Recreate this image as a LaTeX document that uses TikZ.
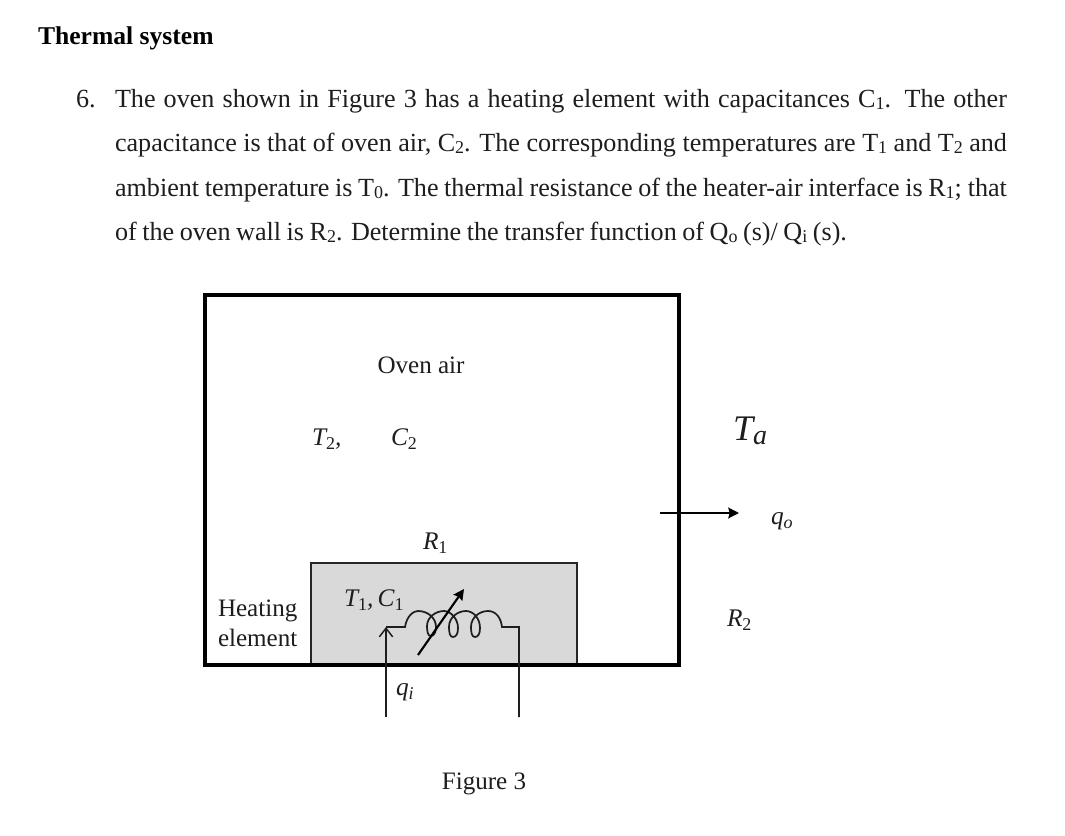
\documentclass[tikz,border=0pt]{standalone}
\usepackage{fontspec}
\usepackage{graphicx}
\setmainfont{Liberation Serif}
\usetikzlibrary{arrows.meta}
\definecolor{inkc}{HTML}{1E1E1E}
\definecolor{heatc}{HTML}{D9D9D9}
\newcommand{\sbs}[1]{{\fontsize{13.5}{13.5}\selectfont\raisebox{-2.2pt}{#1}}}
\newcommand{\msb}[1]{{\fontsize{13.5}{13.5}\selectfont\raisebox{-3pt}{\upshape#1}}}
\newcommand{\msi}[1]{{\fontsize{13.5}{13.5}\selectfont\raisebox{-3pt}{\textit{#1}}}}
\tikzset{
  x=0.75pt,y=-0.75pt,
  bodyline/.style={anchor=base west,inner sep=0pt,outer sep=0pt,text=inkc,font=\fontsize{19.6}{22}\selectfont},
  titleline/.style={anchor=base west,inner sep=0pt,outer sep=0pt,text=black,font=\fontsize{19.2}{22}\selectfont\bfseries},
  figlabel/.style={anchor=base,inner sep=0pt,outer sep=0pt,text=inkc,font=\fontsize{18.8}{22}\selectfont},
  mathlabel/.style={anchor=base west,inner sep=0pt,outer sep=0pt,text=inkc,font=\fontsize{19}{22}\selectfont\itshape},
  ovenwall/.style={draw=black,line width=2.9pt},
  heaterbox/.style={draw=black!85,line width=1.9pt,fill=heatc},
  wire/.style={draw=inkc,line width=1.3pt},
  openarrow/.style={wire,-{Straight Barb[length=6.5pt,width=10pt,line width=1.1pt]}},
  flowarrow/.style={draw=black,line width=1.6pt,-{Stealth[length=8pt,width=8pt,inset=1pt]}}
}
\begin{document}
\begin{tikzpicture}
\useasboundingbox (0,0) rectangle (1065,836);
\fill[white] (0,0) rectangle (1065,836);

\node[titleline] (title) at (38,44) {Thermal system};
\node[bodyline] (num) at (76,107) {6.};
\node[bodyline] (la) at (115,107) {\makebox[669pt][s]{The oven shown in Figure 3 has a heating element with capacitances C\sbs{1}. The other}};
\node[bodyline] (lb) at (115,151) {\makebox[669pt][s]{capacitance is that of oven air, C\sbs{2}. The corresponding temperatures are T\sbs{1} and T\sbs{2} and}};
\node[bodyline] (lc) at (115,196) {\makebox[669pt][s]{ambient temperature is T\sbs{0}. The thermal resistance of the heater-air interface is R\sbs{1}; that}};
\node[bodyline] (ld) at (115,240) {\makebox[549pt][s]{of the oven wall is R\sbs{2}. Determine the transfer function of Q\sbs{o} (s)/ Q\sbs{i} (s).}};

% oven
\draw[heaterbox] (311,563) rectangle (577,665);
\draw[ovenwall] (205,295) rectangle (679,665);

% coil and wires
\coordinate (inB) at (386,717);
\coordinate (inT) at (386,627);
\coordinate (coilL) at (405,627);
\coordinate (coilR) at (502,627);
\coordinate (outT) at (519,627);
\coordinate (outB) at (519,717);
\draw[wire] (inT) -- (coilL)
  .. controls (407,615) and (414,611) .. (418,611)
  .. controls (428,611) and (436,618) .. (436,627)
  .. controls (436,632) and (434,636) .. (431,636)
  .. controls (428,636) and (427,632) .. (427,626)
  .. controls (427,617) and (436,611) .. (444,611)
  .. controls (450,611) and (458,618) .. (458,628)
  .. controls (458,634) and (456,637) .. (453,637)
  .. controls (450,637) and (449,633) .. (449,627)
  .. controls (449,617) and (458,611) .. (466,611)
  .. controls (473,611) and (480,618) .. (480,628)
  .. controls (480,634) and (478,637) .. (475,637)
  .. controls (472,637) and (471,633) .. (471,627)
  .. controls (471,617) and (480,611) .. (488,611)
  .. controls (496,611) and (501,618) .. (coilR)
  -- (outT) -- (outB);
\draw[openarrow] (inB) -- (inT);

\coordinate (varA) at (418,655);
\coordinate (varB) at (464,589);
\draw[flowarrow] (varA) -- (varB);

\coordinate (outA) at (660,513);
\coordinate (outZ) at (739,513);
\draw[flowarrow] (outA) -- (outZ);

% labels
\node[figlabel] (air) at (421,373) {Oven air};
\node[figlabel,anchor=base west] (hA) at (218,616) {Heating};
\node[figlabel,anchor=base west] (hB) at (218,646) {element};
\node[figlabel] (fig) at (484,789) {Figure 3};
\node[mathlabel] (t2) at (312,445) {T\msb{2},};
\node[mathlabel] (c2) at (391,445) {C\msb{2}};
\node[mathlabel] (r1) at (423,549) {R\msb{1}};
\node[mathlabel] (t1c1) at (344,606) {T\msb{1},\,C\msb{1}};
\node[mathlabel] (qi) at (396,695) {q\msi{i}};
\node[mathlabel] (r2) at (727,626) {R\msb{2}};
\node[mathlabel,font=\fontsize{27}{30}\selectfont\itshape] (ta) at (733,440) {T{\fontsize{21}{21}\selectfont\raisebox{-3pt}{a}}};
\node[mathlabel] (qo) at (771,524) {q\msi{o}};
\end{tikzpicture}
\end{document}
